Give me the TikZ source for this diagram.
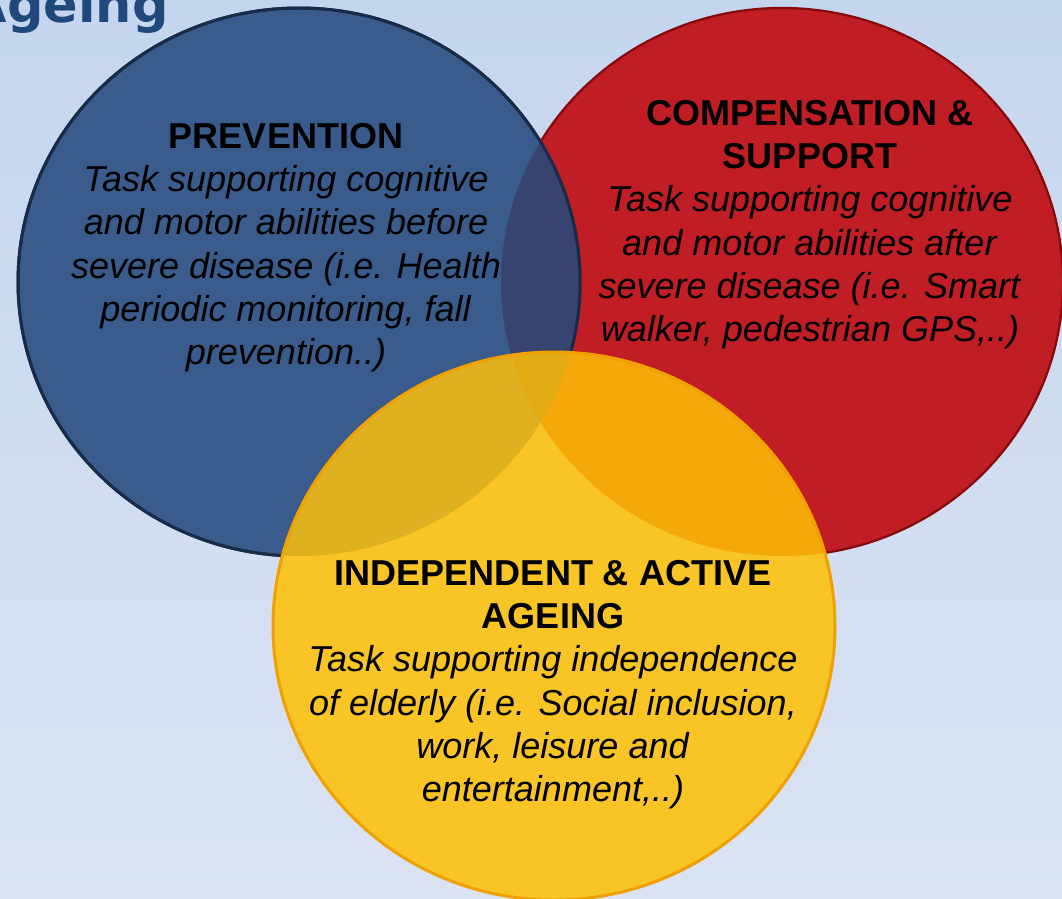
\documentclass[tikz,border=0pt]{standalone}
\usepackage{fontspec}
\setmainfont{Liberation Sans}
\newfontfamily\headfont{DejaVu Sans}
\usetikzlibrary{positioning}
\definecolor{bgtop}{RGB}{196,214,238}
\definecolor{bgbot}{RGB}{219,227,243}
\definecolor{prevfill}{RGB}{58,92,140}
\definecolor{prevline}{RGB}{24,44,74}
\definecolor{compfill}{RGB}{192,30,36}
\definecolor{compline}{RGB}{135,10,12}
\definecolor{indepfill}{RGB}{248,196,38}
\definecolor{indepline}{RGB}{240,160,0}
\definecolor{pcmix}{RGB}{55,68,112}
\definecolor{pimix}{RGB}{223,177,32}
\definecolor{cimix}{RGB}{244,168,10}
\definecolor{allmix}{RGB}{226,171,22}
\definecolor{titleblue}{RGB}{31,73,125}

\begin{document}
\begin{tikzpicture}[x=0.02cm,y=-0.02cm,
    vennr/.style={x radius=281,y radius=274},
    venntext/.style={align=center,inner sep=0pt,anchor=north,text=black,
      font=\fontsize{20.5}{24.6}\selectfont}]
  \useasboundingbox (0,0) rectangle (1062,899);
  \clip (0,0) rectangle (1062,899);
  \shade[top color=bgtop,bottom color=bgbot](0,0)rectangle(1062,899);
  \node[anchor=base east,inner sep=0pt,text=titleblue,font=\headfont\bfseries\fontsize{29}{32}\selectfont] (title) at (169,22) {Ageing};
  % centres of the three sets
  \coordinate (prevc) at (299,282);
  \coordinate (compc) at (782,282);
  \coordinate (indepc) at (554,626);
  \filldraw[fill=compfill,draw=compline,line width=1.3pt](compc)ellipse[vennr];
  \filldraw[fill=prevfill,draw=prevline,line width=1.7pt](prevc)ellipse[vennr];
  \begin{scope}
    \clip (prevc)ellipse[vennr];
    \fill[pcmix](compc)ellipse[vennr];
  \end{scope}
  \draw[prevline,line width=1.7pt](prevc)ellipse[vennr];
  \fill[indepfill](indepc)ellipse[vennr];
  % overlaps with the yellow set
  \begin{scope}
    \clip (indepc)ellipse[vennr];
    \fill[pimix](prevc)ellipse[vennr];
    \fill[cimix](compc)ellipse[vennr];
    \clip (prevc)ellipse[vennr];
    \fill[allmix](compc)ellipse[vennr];
  \end{scope}
  \draw[indepline,line width=1.7pt](indepc)ellipse[vennr];
  \node[venntext] (prev) at (286,123) {\textbf{PREVENTION}\\
    \textit{Task supporting cognitive}\\ \textit{and motor abilities before}\\
    \textit{severe disease (i.e. Health}\\ \textit{periodic monitoring, fall}\\
    \textit{prevention..)}};
  \node[venntext] (comp) at (810,100) {\textbf{COMPENSATION \&}\\ \textbf{SUPPORT}\\
    \textit{Task supporting cognitive}\\ \textit{and motor abilities after}\\
    \textit{severe disease (i.e. Smart}\\ \textit{walker, pedestrian GPS,..)}};
  \node[venntext] (indep) at (553,560) {\textbf{INDEPENDENT \& ACTIVE}\\ \textbf{AGEING}\\
    \textit{Task supporting independence}\\ \textit{of elderly (i.e. Social inclusion,}\\
    \textit{work, leisure and}\\ \textit{entertainment,..)}};
\end{tikzpicture}
\end{document}
